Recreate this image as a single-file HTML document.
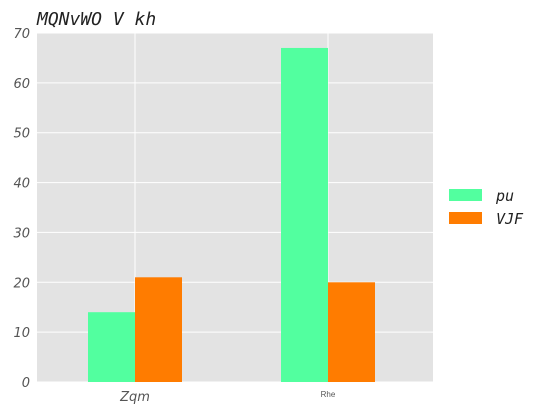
<!DOCTYPE html>
<html><head><meta charset="utf-8"><style>
body{margin:0;background:#fff;}
svg{display:block;}
</style></head><body>
<svg id="chart" width="552" height="414" xmlns="http://www.w3.org/2000/svg">
<text x="37" y="25" font-family="DejaVu Sans Mono, monospace" font-style="italic" font-size="18" fill="#222" xml:space="preserve">MQNvWO V kh</text>
<rect x="37" y="33" width="396" height="349" fill="#e3e3e3"/>
<g id="grid"></g>
<g id="bars"></g>
<g id="ticks"></g>
<g>
<rect x="449" y="189" width="33" height="12" fill="#52ff9f"/>
<text x="496" y="201" font-family="DejaVu Sans Mono, monospace" font-style="italic" font-size="15" fill="#222">pu</text>
<rect x="449" y="212" width="33" height="12" fill="#ff7c00"/>
<text x="496" y="224" font-family="DejaVu Sans Mono, monospace" font-style="italic" font-size="15" fill="#222">VJF</text>
</g>
</svg>
<script>
const categories = ["Zqm", "Rhe"];
const seriesPu = [14, 67];
const seriesVJF = [21, 20];
const yTicks = [0, 10, 20, 30, 40, 50, 60, 70];
const NS = "http://www.w3.org/2000/svg";
const y = v => 382 - v * (349 / 70);
const xc = i => 135 + i * 193;
const bw = 47;
function mk(tag, attrs, parent){const e=document.createElementNS(NS,tag);for(const k in attrs)e.setAttribute(k,attrs[k]);parent.appendChild(e);return e;}
const grid=document.getElementById('grid'), bars=document.getElementById('bars'), ticks=document.getElementById('ticks');
yTicks.forEach(t=>{
  const l=mk('line',{x1:37,x2:433,y1:y(t),y2:y(t),stroke:'#fff','stroke-width':1},grid);
  
  
  const tx=mk('text',{x:30,y:y(t)+5,'text-anchor':'end','font-family':'DejaVu Sans, sans-serif','font-style':'italic','font-size':13,fill:'#555'},ticks);
  tx.textContent=t;
  
  
});
categories.forEach((c,i)=>{
  const l=mk('line',{x1:xc(i),x2:xc(i),y1:33,y2:382,stroke:'#fff','stroke-width':1},grid);
  
  
  const b1=mk('rect',{x:xc(i)-bw,y:y(seriesPu[i]),width:bw,height:382-y(seriesPu[i]),fill:'#52ff9f'},bars);
  
  
  const b2=mk('rect',{x:xc(i),y:y(seriesVJF[i]),width:bw,height:382-y(seriesVJF[i]),fill:'#ff7c00'},bars);
  
  
  const small = i===1;
  const tx=mk('text',{x:xc(i),y:small?397:401,'text-anchor':'middle','font-family':small?'Liberation Sans, sans-serif':'DejaVu Sans, sans-serif','font-style':small?'normal':'italic','font-size':small?8:13,fill:'#555'},ticks);
  tx.textContent=c;
  
  
});
</script>
</body></html>
